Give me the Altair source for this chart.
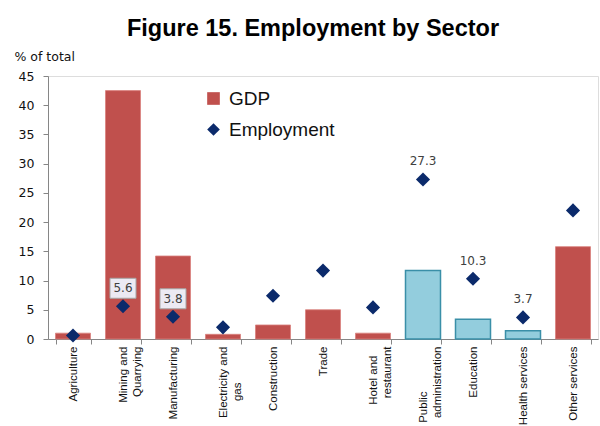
import altair as alt
import pandas as pd

sectors = ["Agriculture", "Mining and|Quarrying", "Manufacturing", "Electricity and|gas",
           "Construction", "Trade", "Hotel and|restaurant", "Public|administration",
           "Education", "Health services", "Other services"]
gdp = [1.0, 42.5, 14.2, 0.8, 2.4, 5.0, 1.0, 11.7, 3.4, 1.4, 15.8]
employment = [0.6, 5.6, 3.8, 2.0, 7.4, 11.7, 5.4, 27.3, 10.3, 3.7, 22.0]
highlight = [False, False, False, False, False, False, False, True, True, True, False]
boxed_labels = ["Mining and|Quarrying", "Manufacturing"]
plain_labels = ["Public|administration", "Education", "Health services"]

RED = "#C0504D"
BLUE = "#93CDDD"
BLUE_EDGE = "#3A8FA8"
NAVY = "#0B2A6B"

df = pd.DataFrame({"sector": sectors, "gdp": gdp, "emp": employment, "hl": highlight})
df["gdp_series"] = "GDP"
df["emp_series"] = "Employment"
df["emp_label"] = df["emp"].map(lambda v: f"{v:.1f}")

BL = "\u2800"
label_expr = (
    "datum.value == 'Electricity and|gas' ? ['Electricity and', 'gas" + BL * 4 + "'] : "
    "datum.value == 'Public|administration' ? ['Public" + BL * 5 + "', 'administration'] : "
    "datum.value == 'Hotel and|restaurant' ? ['Hotel and" + BL * 1 + "', 'restaurant'] : "
    "split(datum.label, '|')"
)

x_enc = alt.X("sector:N", sort=sectors,
              scale=alt.Scale(paddingInner=0.3, paddingOuter=0.15),
              axis=alt.Axis(title=None, labelAngle=-90, tickBand="extent", tickSize=5,
                            labelPadding=2, labelFont="Liberation Sans", labelFontSize=11.5,
                            labelColor="#111", labelLineHeight=14, domainColor="#868686",
                            tickColor="#868686", labelExpr=label_expr))

y_scale = alt.Scale(domain=[0, 45], nice=False)
y_axis = alt.Axis(title="% of total", titleAngle=0, titleAlign="left", titleBaseline="middle",
                  titleX=-34, titleY=-20, titleFont="DejaVu Sans", titleFontSize=12.5,
                  titleFontWeight="normal", titleColor="#111",
                  values=list(range(0, 50, 5)), labelOverlap=False, grid=False, tickSize=5,
                  labelPadding=9, labelFont="DejaVu Sans", labelFontSize=12.5,
                  labelColor="#111", domainColor="#868686", tickColor="#868686")

legend = alt.Legend(title=None, orient="none", legendX=156, legendY=13,
                    labelFont="Liberation Sans", labelFontSize=19, labelColor="#111",
                    symbolSize=160, rowPadding=11, labelOffset=6, symbolStrokeWidth=0)
color_scale = alt.Scale(domain=["GDP", "Employment"], range=[RED, NAVY])
shape_scale = alt.Scale(domain=["GDP", "Employment"], range=["square", "diamond"])

base = alt.Chart(df)

red_bars = base.transform_filter("!datum.hl").mark_bar(stroke="#D9817E", strokeWidth=0.8).encode(
    x=x_enc,
    y=alt.Y("gdp:Q", scale=y_scale, axis=y_axis),
    color=alt.Color("gdp_series:N", scale=color_scale, legend=legend),
)
blue_bars = base.transform_filter("datum.hl").mark_bar(
    color=BLUE, stroke=BLUE_EDGE, strokeWidth=1.5).encode(
    x=x_enc,
    y=alt.Y("gdp:Q", scale=y_scale, axis=y_axis),
)
points = base.mark_point(filled=True, size=200, opacity=1).encode(
    x=x_enc,
    y=alt.Y("emp:Q", scale=y_scale, axis=y_axis),
    color=alt.Color("emp_series:N", scale=color_scale, legend=legend),
    shape=alt.Shape("emp_series:N", scale=shape_scale, legend=legend),
)
boxes = base.transform_filter(
    alt.FieldOneOfPredicate(field="sector", oneOf=boxed_labels)
).mark_point(shape="M-1.3,-1L1.3,-1L1.3,1L-1.3,1Z", size=400, filled=True, fill="#ECEAF3",
             stroke="#A6A6A6", strokeWidth=1, opacity=1, yOffset=-18).encode(
    x=x_enc,
    y=alt.Y("emp:Q", scale=y_scale, axis=y_axis),
)
texts = base.transform_filter(
    alt.FieldOneOfPredicate(field="sector", oneOf=boxed_labels + plain_labels)
).mark_text(font="DejaVu Sans", fontSize=12, color="#404040", baseline="middle",
            yOffset=-18).encode(
    x=x_enc,
    y=alt.Y("emp:Q", scale=y_scale, axis=y_axis),
    text="emp_label:N",
)

chart = alt.layer(red_bars, blue_bars, points, boxes, texts).properties(
    width=550, height=263,
    title=alt.Title("Figure 15. Employment by Sector", font="Liberation Sans", fontSize=23.5,
                    fontWeight="bold", color="#000", anchor="middle", offset=10, dx=-10),
    autosize=alt.AutoSizeParams(type="none"),
    padding={"left": 48, "top": 76, "right": 2, "bottom": 87},
).configure_view(stroke=None).configure(background="white")

chart.save("out.html", embed_options={"renderer": "svg", "actions": False})
